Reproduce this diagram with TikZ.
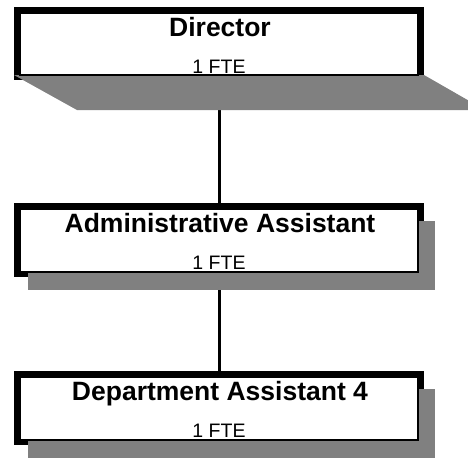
\documentclass[tikz,border=0pt]{standalone}
\usepackage{fontspec}
\setmainfont{Liberation Sans}
\usetikzlibrary{backgrounds}
\definecolor{shadowgray}{HTML}{808080}
\begin{document}
\begin{tikzpicture}[x=1pt,y=-1pt,
  box/.style={draw=black,line width=1.5pt,fill=white,minimum width=398pt,inner sep=0pt,outer sep=0pt},
  title/.style={anchor=base,font=\bfseries\fontsize{26.5}{30}\selectfont,inner sep=0pt},
  fte/.style={anchor=base,font=\fontsize{19.5}{23}\selectfont,inner sep=0pt},
  conn/.style={draw=black,line width=3pt},
  backframe/.style={fill=black},
  shade/.style={fill=shadowgray}]
\useasboundingbox (0,0) rectangle (468,458);
\clip (0,0) rectangle (468,458);
% boxes
\node[box,minimum height=62pt] (dir) at (219,44) {};
\node[box,minimum height=63pt] (adm) at (219,240.5) {};
\node[box,minimum height=63pt] (dep) at (219,408.5) {};
% texts
\node[title] (dirt) at (220,36.5) {Director};
\node[fte] (dirf) at (219,73) {1 FTE};
\node[title] (admt) at (220,232) {Administrative Assistant};
\node[fte] (admf) at (219,269.5) {1 FTE};
\node[title] (dept) at (220,400) {Department Assistant 4};
\node[fte] (depf) at (219,437.5) {1 FTE};
\begin{pgfonlayer}{background}
  \clip (0,0) rectangle (468,458);
  \draw[conn] (dir.south) -- (adm.north);
  \draw[conn] (adm.south) -- (dep.north);
  \foreach \b in {dir,adm,dep}{
    \path[backframe] ([shift={(-6,-6)}]\b.north west) rectangle ([shift={(6,5)}]\b.south east);
  }
  \path[shade] ([shift={(-6,0)}]dir.south west) -- ([shift={(6,0)}]dir.south east)
     -- ([shift={(67,35)}]dir.south east) -- ([shift={(57,35)}]dir.south west) -- cycle;
  \foreach \b in {adm,dep}{
    \path[shade] ([shift={(8,12)}]\b.north west) rectangle ([shift={(17,18)}]\b.south east);
  }
\end{pgfonlayer}
\end{tikzpicture}
\end{document}
